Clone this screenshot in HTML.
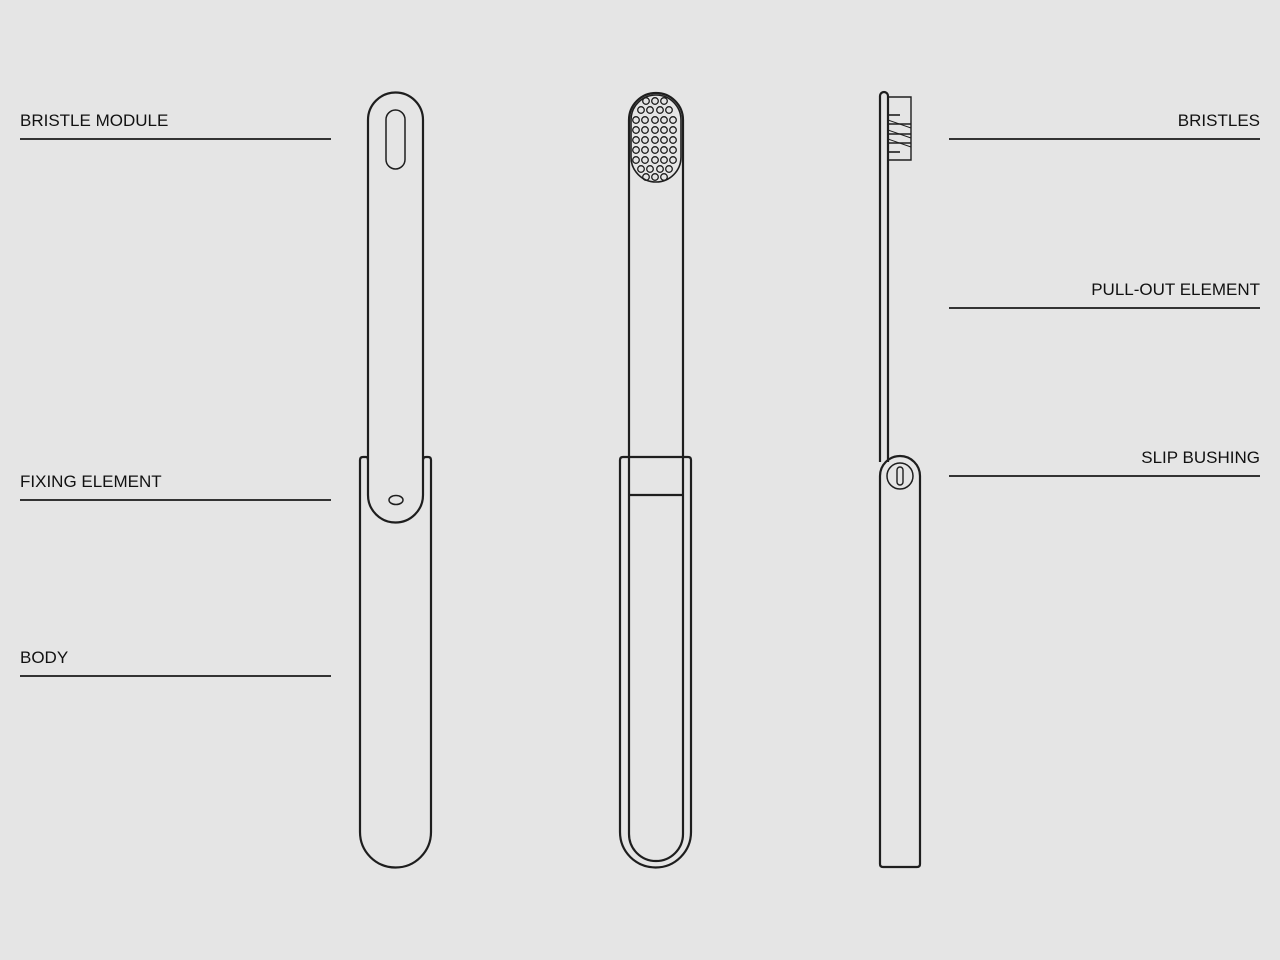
<!DOCTYPE html>
<html><head><meta charset="utf-8"><style>
html,body{margin:0;padding:0;background:#e5e5e5;}
svg{display:block}
text{font-family:"Liberation Sans",sans-serif;font-size:17px;fill:#111;}
</style></head><body>
<svg width="1280" height="960" viewBox="0 0 1280 960" xmlns="http://www.w3.org/2000/svg">
<rect width="1280" height="960" fill="#e5e5e5"/>
<g stroke="#333" stroke-width="2" fill="none">
<line x1="20" y1="139" x2="331" y2="139"/>
<line x1="20" y1="500" x2="331" y2="500"/>
<line x1="20" y1="676" x2="331" y2="676"/>
<line x1="949" y1="139" x2="1260" y2="139"/>
<line x1="949" y1="308" x2="1260" y2="308"/>
<line x1="949" y1="476" x2="1260" y2="476"/>
</g>
<g>
<text x="20" y="126">BRISTLE MODULE</text>
<text x="20" y="487">FIXING ELEMENT</text>
<text x="20" y="663">BODY</text>
<text x="1260" y="126" text-anchor="end">BRISTLES</text>
<text x="1260" y="295" text-anchor="end">PULL-OUT ELEMENT</text>
<text x="1260" y="463" text-anchor="end">SLIP BUSHING</text>
</g>
<g stroke="#1e1e1e" stroke-width="2.2" fill="none">
<path d="M360,832 V460 Q360,457 363,457 H366 Q368,457 368,460 M423,460 Q423,457 426,457 H428 Q431,457 431,460 V832 A35.5,35.5 0 0 1 360,832"/>
<path d="M368,495 V120 A27.5,27.5 0 0 1 423,120 V495 A27.5,27.5 0 0 1 368,495 Z" fill="#e5e5e5"/>
<rect x="386" y="110" width="19" height="59" rx="9.5" stroke-width="1.5"/>
<ellipse cx="396" cy="500" rx="7" ry="4.5" stroke-width="1.5"/>

<path d="M620,832 V460 Q620,457 623,457 H688 Q691,457 691,460 V832 A35.5,35.5 0 0 1 620,832 Z"/>
<path d="M629,457 V120 A27,27 0 0 1 683,120 V457"/>
<path d="M629,457 V834 A27,27 0 0 0 683,834 V457"/>
<line x1="629" y1="495" x2="683" y2="495"/>
<rect x="631" y="95" width="50" height="87" rx="25" stroke-width="1.6"/>
<g stroke-width="1.3">
<circle cx="646" cy="101" r="3.3"/><circle cx="655" cy="101" r="3.3"/><circle cx="664" cy="101" r="3.3"/>
<circle cx="641" cy="110" r="3.3"/><circle cx="650" cy="110" r="3.3"/><circle cx="660" cy="110" r="3.3"/><circle cx="669" cy="110" r="3.3"/>
<circle cx="636" cy="120" r="3.3"/><circle cx="645" cy="120" r="3.3"/><circle cx="655" cy="120" r="3.3"/><circle cx="664" cy="120" r="3.3"/><circle cx="673" cy="120" r="3.3"/>
<circle cx="636" cy="130" r="3.3"/><circle cx="645" cy="130" r="3.3"/><circle cx="655" cy="130" r="3.3"/><circle cx="664" cy="130" r="3.3"/><circle cx="673" cy="130" r="3.3"/>
<circle cx="636" cy="140" r="3.3"/><circle cx="645" cy="140" r="3.3"/><circle cx="655" cy="140" r="3.3"/><circle cx="664" cy="140" r="3.3"/><circle cx="673" cy="140" r="3.3"/>
<circle cx="636" cy="150" r="3.3"/><circle cx="645" cy="150" r="3.3"/><circle cx="655" cy="150" r="3.3"/><circle cx="664" cy="150" r="3.3"/><circle cx="673" cy="150" r="3.3"/>
<circle cx="636" cy="160" r="3.3"/><circle cx="645" cy="160" r="3.3"/><circle cx="655" cy="160" r="3.3"/><circle cx="664" cy="160" r="3.3"/><circle cx="673" cy="160" r="3.3"/>
<circle cx="641" cy="169" r="3.3"/><circle cx="650" cy="169" r="3.3"/><circle cx="660" cy="169" r="3.3"/><circle cx="669" cy="169" r="3.3"/>
<circle cx="646" cy="177" r="3.3"/><circle cx="655" cy="177" r="3.3"/><circle cx="664" cy="177" r="3.3"/>
</g>

<path d="M880,462 V96 A4,4 0 0 1 888,96 V462"/>
<path d="M888,97 H911 V160 H888" stroke-width="1.4"/>
<g stroke-width="1.6">
<line x1="888" y1="115" x2="900" y2="115"/>
<line x1="888" y1="124" x2="911" y2="124"/>
<line x1="888" y1="134" x2="911" y2="134"/>
<line x1="888" y1="143" x2="911" y2="143"/>
<line x1="888" y1="152" x2="900" y2="152"/>
<path d="M888,120 L911,128 M888,130 L911,138 M888,139 L911,147" stroke-width="1"/>
</g>
<path d="M880,476 A20,20 0 0 1 920,476 V864 Q920,867 917,867 H883 Q880,867 880,864 Z"/>
<circle cx="900" cy="476" r="13" stroke-width="1.5"/>
<rect x="897" y="467" width="6" height="18" rx="3" stroke-width="1.4"/>
</g>
</svg>
</body></html>
